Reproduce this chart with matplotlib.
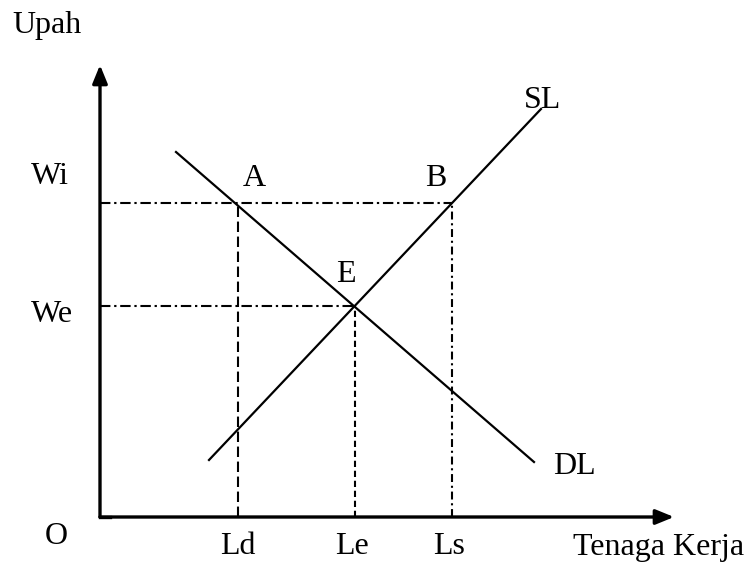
import matplotlib
matplotlib.use("Agg")
import matplotlib.pyplot as plt

# ---- data (diagram units; origin O at axis intersection) ----
wage_levels = {"Wi": 31.4, "We": 21.1}
labour_levels = {"Ld": 13.8, "Le": 25.5, "Ls": 35.2}
supply_x = [10.9, 44.1]
supply_y = [5.7, 40.8]
demand_x = [7.6, 43.4]
demand_y = [36.5, 5.5]
x_axis_end = 57.4
y_axis_end = 45.2
y_title = "Upah"
x_title = "Tenaga Kerja"

FONT = "Liberation Serif"
FS = 23

fig = plt.figure(figsize=(7.47, 5.62), dpi=100)
ax = fig.add_axes([0, 0, 1, 1])
ax.set_xlim(-10, 64.7)
ax.set_ylim(-4.5, 51.7)
ax.axis("off")

Wi = wage_levels["Wi"]; We = wage_levels["We"]
Ld = labour_levels["Ld"]; Le = labour_levels["Le"]; Ls = labour_levels["Ls"]

# axes with arrows
arrow_kw = dict(arrowstyle="-|>,head_length=1.1,head_width=0.45", color="black",
                lw=2.4, shrinkA=0, shrinkB=0)
ax.annotate("", xy=(0, y_axis_end), xytext=(0, 0), arrowprops=arrow_kw)
ax.annotate("", xy=(x_axis_end, 0), xytext=(0, 0), arrowprops=arrow_kw)
ax.plot([0, 1.0], [0, 0], color="black", lw=2.4, solid_capstyle="projecting")

dashdot = (0, (5.0, 1.8, 1.1, 1.8))
dashed_long = (0, (5.0, 2.2))
dashed_short = (0, (3.0, 1.8))
dashdot_short = (0, (3.8, 1.8, 1.0, 1.8))
lw_ref = 1.5

# reference lines
ax.plot([0, Ls], [Wi, Wi], color="black", lw=lw_ref, linestyle=dashdot)
ax.plot([0, Le], [We, We], color="black", lw=lw_ref, linestyle=dashdot)
ax.plot([Ld, Ld], [0, Wi], color="black", lw=lw_ref, linestyle=dashed_long)
ax.plot([Le, Le], [0, We], color="black", lw=lw_ref, linestyle=dashed_short)
ax.plot([Ls, Ls], [0, Wi], color="black", lw=lw_ref, linestyle=dashdot_short)

# supply and demand
ax.plot(supply_x, supply_y, color="black", lw=1.6)
ax.plot(demand_x, demand_y, color="black", lw=1.6)

def txt(x, y, s, ha="center"):
    ax.text(x, y, s, fontsize=FS, family=FONT, ha=ha, va="center", color="black")

# labels
txt(-5.3, 49.2, y_title)
txt(-5.0, 34.1, "Wi")
txt(-4.8, 20.3, "We")
txt(-4.4, -2.0, "O")
txt(Ld, -3.0, "Ld")
txt(Le - 0.3, -3.0, "Le")
txt(Ls - 0.3, -3.0, "Ls")
txt(55.9, -3.0, x_title)
txt(15.4, 33.9, "A")
txt(33.6, 33.9, "B")
txt(24.6, 24.3, "E")
txt(44.2, 41.7, "SL")
txt(47.4, 5.1, "DL")

fig.savefig("out.png", dpi=100, facecolor="white")
